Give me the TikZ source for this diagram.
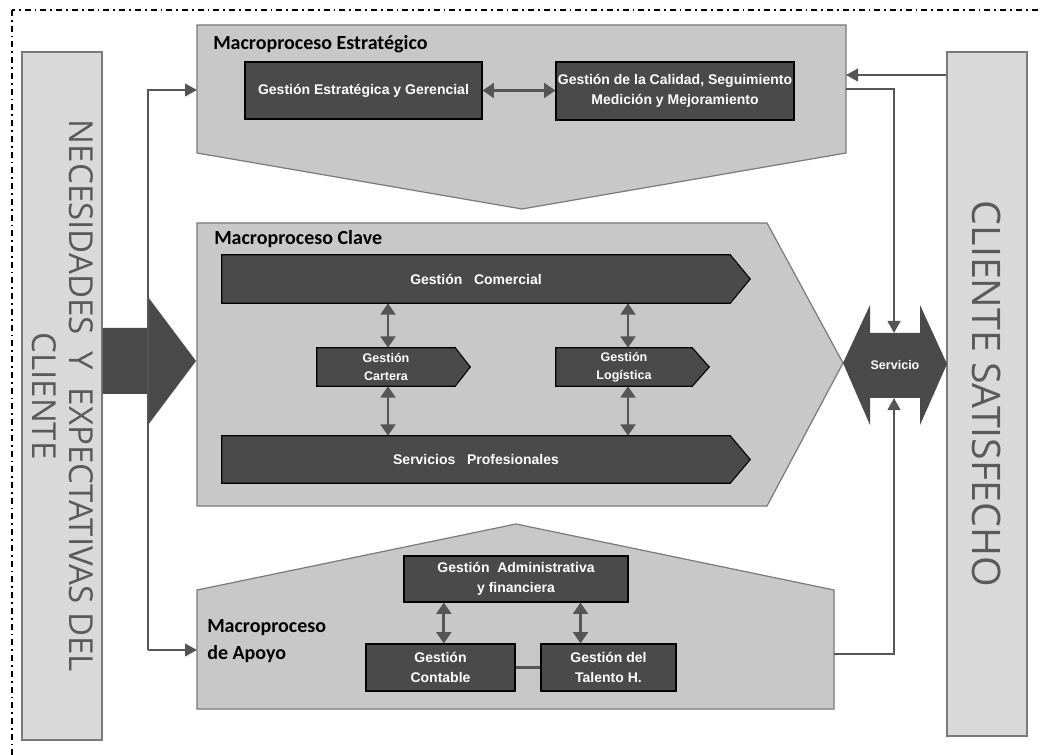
\documentclass[tikz,border=0pt]{standalone}
\usepackage{fontspec}
\setmainfont{Liberation Sans}
\newfontfamily\titlefont{Carlito}
\newfontfamily\sidefont{Open Sans}
\usetikzlibrary{arrows.meta,calc}

\definecolor{panelgray}{HTML}{C8C8C8}
\definecolor{paneledge}{HTML}{7A7A7A}
\definecolor{sidegray}{HTML}{D9D9D9}
\definecolor{darkfill}{HTML}{4A4A4A}
\definecolor{linkgray}{HTML}{555555}
\definecolor{sidetext}{HTML}{5A5A5A}

% one pixel of the drawing grid
\newdimen\pxu
\pxu=0.75pt

\pgfdeclarelayer{back}
\pgfdeclarelayer{mid}
\pgfsetlayers{back,mid,main}

\begin{document}
\begin{tikzpicture}[x=0.75pt,y=-0.75pt,
  boxsize/.style 2 args={minimum width=#1\pxu,minimum height=#2\pxu},
  panel/.style={fill=panelgray,draw=paneledge,line width=0.9pt},
  sidebox/.style={fill=sidegray,draw=paneledge,line width=1.1pt,inner sep=0pt},
  sidelabel/.style={text=sidetext,font=\sidefont\fontsize{24.8}{28}\selectfont,align=center,inner sep=0pt},
  bigsidelabel/.style={sidelabel,font=\sidefont\fontsize{29.5}{34}\selectfont},
  darkbox/.style={fill=darkfill,draw=black,line width=0.8pt,inner sep=0pt,text=white,align=center,
                  font=\bfseries\fontsize{10.5}{15}\selectfont},
  slot/.style={inner sep=0pt,text=white,align=center,font=\bfseries\fontsize{10.5}{15}\selectfont},
  smallslot/.style={slot,font=\bfseries\fontsize{9.4}{13.5}\selectfont},
  darkshape/.style={fill=darkfill,draw=black,line width=0.8pt},
  paneltitle/.style={font=\titlefont\bfseries\fontsize{15}{20}\selectfont,inner sep=0pt,anchor=west,align=left},
  link/.style={draw=linkgray,line width=1.6pt,-{Triangle[length=9pt,width=9.5pt]}},
  twoway/.style={draw=linkgray,line width=2.2pt,
                 {Triangle[length=8.5pt,width=11pt]}-{Triangle[length=8.5pt,width=11pt]}},
  bar/.style={draw=linkgray,line width=2.2pt},
  frame/.style={draw=black,line width=1.3pt,dash pattern=on 4.5pt off 3pt on 1.3pt off 3pt}]

\useasboundingbox (0,0) rectangle (1042,755);

\begin{pgfonlayer}{back}
  \fill[white] (0,0) rectangle (1042,755);
  % outer dash-dotted frame, running off the right and bottom edges
  \begin{scope}
    \clip (0,0) rectangle (1042,755);
    \draw[frame] (12,10) rectangle (1080,800);
  \end{scope}
  % macroprocess panels
  \filldraw[panel] (197,25) -- (846,25) -- (846,153) -- (522,209) -- (197,153) -- cycle;
  \filldraw[panel] (197,223) -- (767,223) -- (843,363) -- (767,506) -- (197,506) -- cycle;
  \filldraw[panel] (197,709) -- (834,709) -- (834,590) -- (516,524) -- (197,590) -- cycle;
\end{pgfonlayer}

% side columns
\node[sidebox,boxsize={80}{688}] (needs) at (62,396) {};
\node[sidelabel,rotate=-90] (needstext) at ([xshift=0.5pt]needs.center)
  {NECESIDADES\ \ Y\ \ EXPECTATIVAS DEL\\CLIENTE};
\node[sidebox,boxsize={80}{684}] (satisfied) at (987,394) {};
\node[bigsidelabel,rotate=-90] (satisfiedtext) at (satisfied.center) {CLIENTE SATISFECHO};

\coordinate (stratin) at (197,90);
\coordinate (stratfb) at (846,75);
\coordinate (stratout) at (846,89);
\coordinate (supportin) at (197,650);
\coordinate (supportout) at (834,654);

\node[paneltitle] (strattitle) at (213,44) {Macroproceso Estratégico};
\node[paneltitle] (keytitle) at (214,239) {Macroproceso Clave};
\node[paneltitle] (supporttitle) at (207,641) {Macroproceso\\de Apoyo};

% strategic processes
\node[darkbox,boxsize={237}{57}] (estrat) at (363.5,90.5) {Gestión Estratégica y Gerencial};
\node[darkbox,boxsize={238}{58}] (calidad) at (675,91)
  {Gestión de la Calidad, Seguimiento\\Medición y Mejoramiento};
\draw[twoway] (estrat.east) -- (calidad.west |- estrat.east);

% key processes (arrow-shaped boxes)
\node[slot,boxsize={508}{48}] (comercial) at (476,279) {Gestión\ \ \ Comercial};
\node[slot,boxsize={508}{47}] (servicios) at (476,459.5) {Servicios\ \ \ Profesionales};
\node[smallslot,boxsize={138}{38}] (cartera) at (386,367) {Gestión\\Cartera};
\node[smallslot,boxsize={136}{38}] (logistica) at (624,367) {Gestión\\Logística};
\begin{pgfonlayer}{mid}
  \foreach \b/\t in {comercial/20,servicios/20,cartera/15,logistica/17}{
    \draw[darkshape] (\b.north west) -- (\b.north east) -- ($(\b.east)+(\t,0)$)
      -- (\b.south east) -- (\b.south west) -- cycle;
  }
\end{pgfonlayer}
\draw[twoway] ([xshift=1.5pt]comercial.south -| cartera.north) -- ([xshift=1.5pt]cartera.north);
\draw[twoway] ([xshift=1.5pt]cartera.south) -- ([xshift=1.5pt]servicios.north -| cartera.south);
\draw[twoway] ([xshift=3pt]comercial.south -| logistica.north) -- ([xshift=3pt]logistica.north);
\draw[twoway] ([xshift=3pt]logistica.south) -- ([xshift=3pt]servicios.north -| logistica.south);

% support processes
\node[darkbox,boxsize={224}{46}] (admin) at (516,579) {Gestión\ \ Administrativa\\y financiera};
\node[darkbox,boxsize={149}{47}] (contable) at (440.5,667.5) {Gestión\\Contable};
\node[darkbox,boxsize={135}{47}] (talento) at (608.5,667.5) {Gestión del\\Talento H.};
\draw[twoway] ([xshift=2.5pt]contable.north) -- ([xshift=2.5pt]admin.south -| contable.north);
\draw[twoway] ([xshift=-21pt]talento.north) -- ([xshift=-21pt]admin.south -| talento.north);
\draw[bar] (contable.east) -- (talento.west);

% input arrow from customer needs
\fill[darkfill] (needs.east |- 0,328) -- (148,328) -- (148,297) -- (196,361)
  -- (148,425) -- (148,394) -- (needs.east |- 0,394) -- cycle;

% service double arrow
\fill[darkfill] (843,363) -- (870,305) -- (870,333) -- (920,333) -- (920,305) -- (947,364)
  -- (920,425) -- (920,398) -- (870,398) -- (870,425) -- cycle;
\node[smallslot] (servicio) at (895,365) {Servicio};
\coordinate (servtop) at (894,333);
\coordinate (servbot) at (894,398);

% flow connectors
\coordinate (trunktop) at (148,90);
\coordinate (trunkbot) at (148,650);
\draw[link] (trunkbot) -- (trunktop) -- (stratin);
\draw[link] (trunkbot) -- (supportin);
\draw[link] (satisfied.west |- stratfb) -- (stratfb);
\draw[link] (stratout) -| (servtop);
\draw[link] (supportout) -| (servbot);

\end{tikzpicture}
\end{document}
